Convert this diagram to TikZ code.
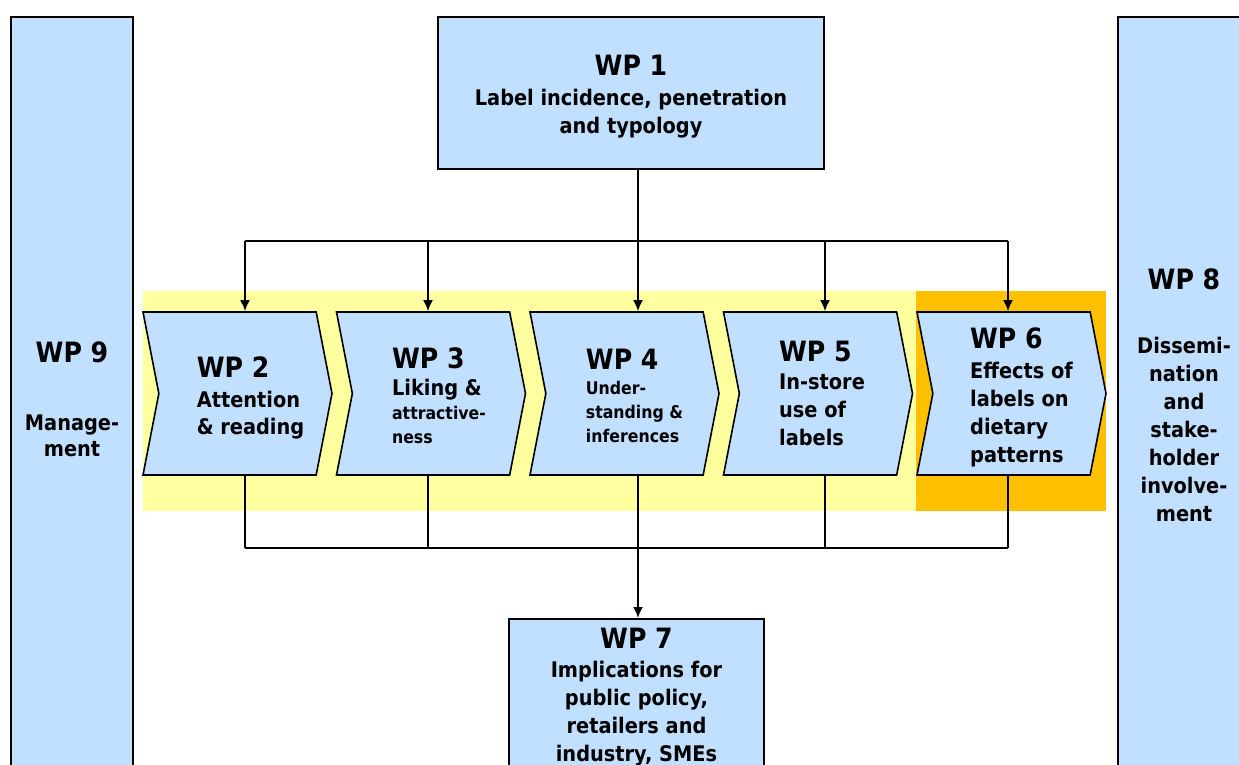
\documentclass[tikz,border=0pt]{standalone}
\usepackage{fontspec}
\setmainfont{DejaVu Sans Condensed}
\usetikzlibrary{shapes.symbols}
\usetikzlibrary{arrows.meta}
\usetikzlibrary{calc}

\definecolor{wpblue}{RGB}{193,223,254}
\definecolor{wpyellow}{RGB}{255,255,160}
\definecolor{wporange}{RGB}{255,192,0}

\newcommand{\wphead}{\fontsize{28}{30}\selectfont}
\newcommand{\wpbody}{\fontsize{21.5}{28}\selectfont}
\newcommand{\wpsmall}{\fontsize{17.5}{24}\selectfont}

\tikzset{
    wpbox/.style={draw, fill=wpblue, line width=1.6pt, align=center,
                  font=\bfseries\wpbody, inner sep=0pt},
    wpchev/.style={signal, signal to=east, signal from=west,
                   signal pointer angle=158, draw, fill=wpblue,
                   line width=1.6pt, minimum width=189pt,
                   minimum height=163pt, inner sep=0pt},
    wptext/.style={align=left, font=\bfseries\wpbody, inner sep=0pt},
    link/.style={line width=2pt},
}

\begin{document}
\begin{tikzpicture}[
        x=1pt, y=-1pt,
        >={Latex[length=11pt,width=10pt]},
    ]
    \useasboundingbox (0,0) rectangle (1239,764);
    \clip (0,0) rectangle (1239,764);

    % band behind the chevrons
    \fill[wpyellow] (143,291) rectangle (1106,511);
    \fill[wporange] (916,291) rectangle (1106,511);

    % side boxes
    \node[wpbox, minimum width=122pt, minimum height=764pt] (wp9) at (72,399)
        {{\wphead WP 9}\\[40pt]Manage-\\[-2pt]ment};
    \node[wpbox, minimum width=132pt, minimum height=756pt] (wp8) at (1184,395)
        {{\wphead WP 8}\\[36pt]Dissemi-\\nation\\and\\stake-\\holder\\involve-\\ment};

    % top and bottom boxes
    \node[wpbox, minimum width=386pt, minimum height=152pt, text height=85pt] (wp1) at (631,93)
        {{\wphead WP 1}\\[2pt]Label incidence, penetration\\and typology};
    \node[wpbox, minimum width=255pt, anchor=north, inner ysep=9pt] (wp7) at (636.5,618)
        {{\wphead WP 7}\\[1pt]Implications for\\public policy,\\retailers and\\industry, SMEs};

    % chevrons
    \node[wpchev] (c2) at (237.5,393.5) {};
    \node[wpchev] (c3) at (431,393.5) {};
    \node[wpchev] (c4) at (624.5,393.5) {};
    \node[wpchev] (c5) at (818,393.5) {};
    \node[wpchev] (c6) at (1011.5,393.5) {};

    \node[wptext] (t2) at ($(c2.center)+(13,4)$)
        {{\wphead WP 2}\\[2pt]Attention\\[-1pt]\& reading};
    \node[wptext, font=\bfseries\wpsmall] (t3) at ($(c3.center)+(8,2)$)
        {{\wphead WP 3}\\[3pt]{\wpbody Liking \&}\\attractive-\\ness};
    \node[wptext, font=\bfseries\wpsmall] (t4) at ($(c4.center)+(10,2)$)
        {{\wphead WP 4}\\[1pt]Under-\\standing \&\\inferences};
    \node[wptext] (t5) at ($(c5.center)+(4,0)$)
        {{\wphead WP 5}\\In-store\\use of\\labels};
    \node[wptext] (t6) at ($(c6.center)+(10,3.5)$)
        {{\wphead WP 6}\\[2pt]Effects of\\labels on\\dietary\\patterns};

    % bus points
    \coordinate (tb2) at (245,241);
    \coordinate (tb3) at (428,241);
    \coordinate (tb4) at (638,241);
    \coordinate (tb5) at (825,241);
    \coordinate (tb6) at (1008,241);
    \coordinate (bb2) at (245,548);
    \coordinate (bb3) at (428,548);
    \coordinate (bb4) at (638,548);
    \coordinate (bb5) at (825,548);
    \coordinate (bb6) at (1008,548);

    \draw[link] (wp1.south -| tb4) -- (tb4);
    \draw[link] (tb2) -- (tb6);
    \foreach \i in {2,...,6}
        \draw[link,->] (tb\i) -- (tb\i |- c\i.north);

    \foreach \i in {2,...,6}
        \draw[link] (bb\i |- c\i.south) -- (bb\i);
    \draw[link] (bb2) -- (bb6);
    \draw[link,->] (bb4) -- (bb4 |- wp7.north);

\end{tikzpicture}
\end{document}
